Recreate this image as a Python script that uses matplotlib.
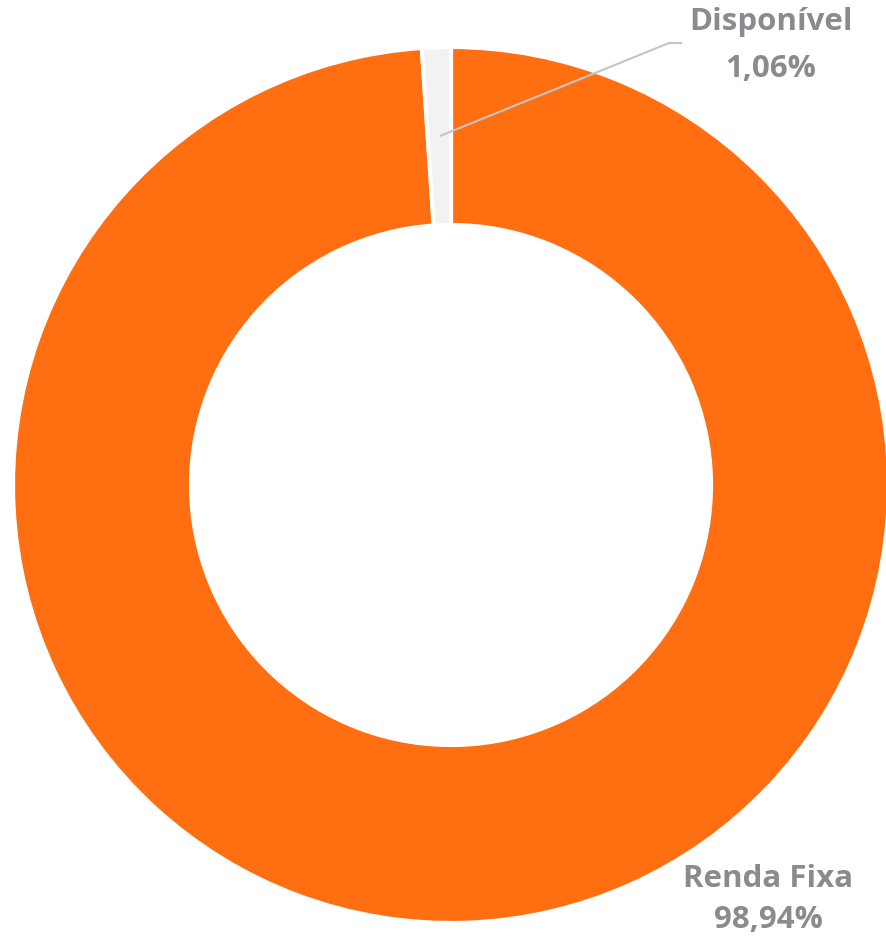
import matplotlib.pyplot as plt

labels = ['Renda Fixa', 'Disponível']
values = [98.94, 1.06]
pct_text = ['98,94%', '1,06%']
colors = ['#FF6E10', '#F2F2F2']

W, H = 886, 941
fig = plt.figure(figsize=(W / 100, H / 100), dpi=100)
ax = fig.add_axes([0, 0, 1, 1])

# donut, clockwise from 12 o'clock
ax.pie(values, colors=colors, startangle=90, counterclock=False,
       center=(451, H - 485), radius=438,
       wedgeprops=dict(width=178, edgecolor='white', linewidth=3),
       frame=True)
ax.set_xlim(0, W)
ax.set_ylim(0, H)
ax.set_aspect('equal')
ax.axis('off')

txt = dict(color='#8A8B8F', fontsize=22.5, fontweight='bold', family=['Open Sans', 'DejaVu Sans'],
           ha='center', va='center')

# leader line for small slice
ax.plot([440, 669, 682], [H - 136, H - 43, H - 43], color='#C4C4C4', lw=1.5, solid_capstyle='butt')
ax.text(771, H - 22, labels[1], **txt)
ax.text(771, H - 69, pct_text[1], **txt)

ax.text(768, H - 879, labels[0], **txt)
ax.text(768, H - 920, pct_text[0], **txt)

fig.savefig('out.png', dpi=100)
